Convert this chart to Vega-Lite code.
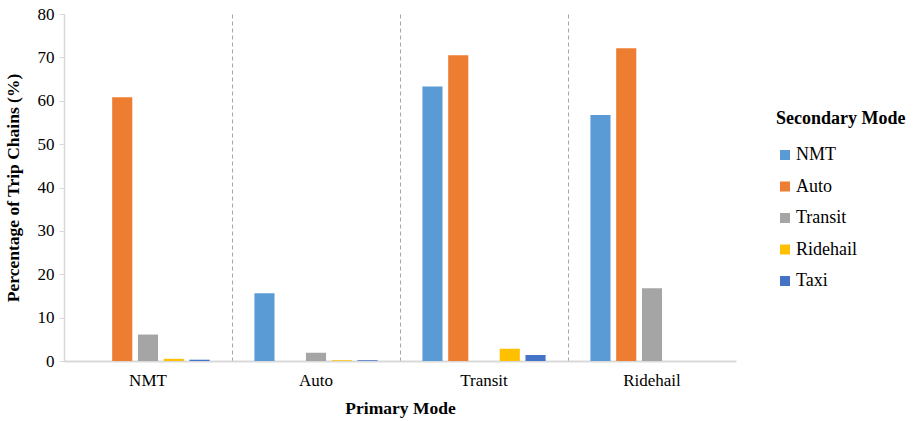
{
  "$schema": "https://vega.github.io/schema/vega-lite/v6.json",
  "width": 672,
  "height": 347,
  "autosize": {"type": "none"},
  "padding": {"left": 64, "top": 14, "right": 178, "bottom": 60},
  "background": "white",
  "config": {"view": {"stroke": null}, "font": "Liberation Serif"},
  "data": {"values": [
    {"primary": "NMT", "secondary": "Auto", "pct": 60.8},
    {"primary": "NMT", "secondary": "Transit", "pct": 6.1},
    {"primary": "NMT", "secondary": "Ridehail", "pct": 0.5},
    {"primary": "NMT", "secondary": "Taxi", "pct": 0.3},
    {"primary": "Auto", "secondary": "NMT", "pct": 15.6},
    {"primary": "Auto", "secondary": "Transit", "pct": 1.9},
    {"primary": "Auto", "secondary": "Ridehail", "pct": 0.2},
    {"primary": "Auto", "secondary": "Taxi", "pct": 0.2},
    {"primary": "Transit", "secondary": "NMT", "pct": 63.3},
    {"primary": "Transit", "secondary": "Auto", "pct": 70.5},
    {"primary": "Transit", "secondary": "Ridehail", "pct": 2.8},
    {"primary": "Transit", "secondary": "Taxi", "pct": 1.4},
    {"primary": "Ridehail", "secondary": "NMT", "pct": 56.7},
    {"primary": "Ridehail", "secondary": "Auto", "pct": 72.1},
    {"primary": "Ridehail", "secondary": "Transit", "pct": 16.8}
  ]},
  "mark": {"type": "bar"},
  "encoding": {
    "x": {
      "field": "primary", "type": "nominal",
      "sort": ["NMT", "Auto", "Transit", "Ridehail"],
      "scale": {"paddingInner": 0, "paddingOuter": 0},
      "axis": {
        "title": "Primary Mode", "titleFont": "Liberation Serif", "titleFontSize": 17.5, "titleFontWeight": "bold", "titleColor": "black", "titlePadding": 11,
        "labelAngle": 0, "labelFont": "Liberation Serif", "labelFontSize": 17, "labelColor": "black", "labelPadding": 11,
        "ticks": false, "domainColor": "#d9d9d9", "domainWidth": 2,
        "grid": true, "bandPosition": 0, "gridDash": [4, 3], "gridColor": "#a6a6a6", "gridWidth": 1
      }
    },
    "xOffset": {
      "field": "secondary", "type": "nominal",
      "sort": ["NMT", "Auto", "Transit", "Ridehail", "Taxi"],
      "scale": {"domain": ["NMT", "Auto", "Transit", "Ridehail", "Taxi"], "paddingInner": 0.22, "paddingOuter": 0.87}
    },
    "y": {
      "field": "pct", "type": "quantitative",
      "scale": {"domain": [0, 80], "nice": false},
      "axis": {
        "title": "Percentage of Trip Chains (%)", "titleFont": "Liberation Serif", "titleFontSize": 17.5, "titleFontWeight": "bold", "titleColor": "black", "titlePadding": 15,
        "values": [0, 10, 20, 30, 40, 50, 60, 70, 80],
        "labelFont": "Liberation Serif", "labelFontSize": 17, "labelColor": "black", "labelPadding": 5,
        "grid": false, "tickColor": "#d9d9d9", "tickSize": 5, "domainColor": "#d9d9d9", "domainWidth": 1.5
      }
    },
    "color": {
      "field": "secondary", "type": "nominal",
      "scale": {"domain": ["NMT", "Auto", "Transit", "Ridehail", "Taxi"], "range": ["#5B9BD5", "#ED7D31", "#A5A5A5", "#FFC000", "#4472C4"]},
      "legend": {
        "title": "Secondary Mode", "orient": "none", "legendX": 712, "legendY": 96,
        "titleFont": "Liberation Serif", "titleFontSize": 18, "titleFontWeight": "bold", "titleColor": "black", "titlePadding": 18,
        "labelFont": "Liberation Serif", "labelFontSize": 18, "labelColor": "black",
        "symbolType": "square", "symbolSize": 100, "symbolStrokeWidth": 0, "rowPadding": 13.5, "labelOffset": 2
      }
    }
  }
}
